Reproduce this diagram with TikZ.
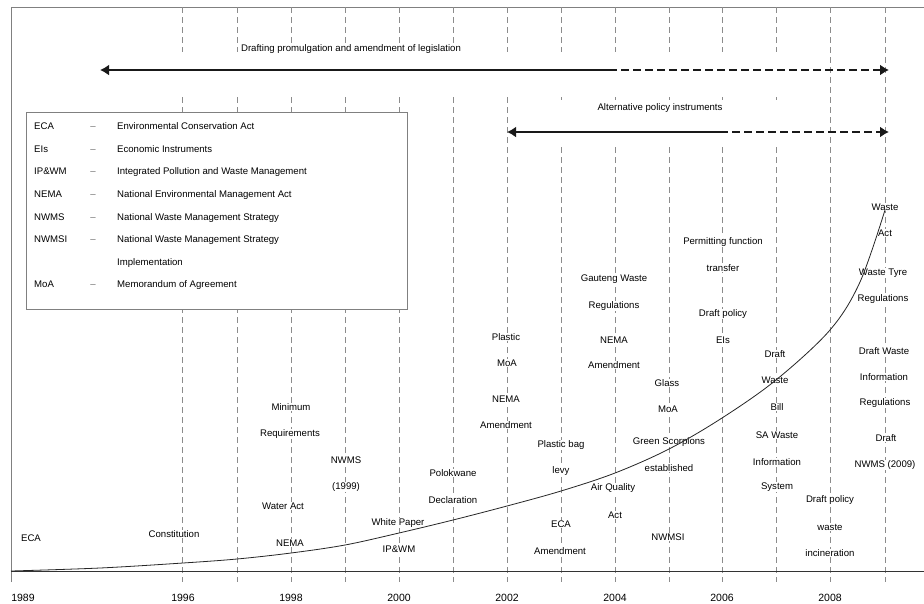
\documentclass[tikz,border=0pt]{standalone}
\usepackage{fontspec}
\setmainfont{Liberation Sans}
\usetikzlibrary{arrows.meta}
\begin{document}
\begin{tikzpicture}[x=1pt,y=-1pt,
  lbl/.style={font=\fontsize{9.6}{10}\selectfont, fill=white, inner sep=0.8pt, text=black},
  leg/.style={font=\fontsize{9.6}{10}\selectfont, inner sep=0pt, anchor=base west, text=black},
  legdash/.style={font=\fontsize{9.6}{10}\selectfont, inner sep=0pt, anchor=base, text=black!55},
  yr/.style={font=\fontsize{10.5}{11}\selectfont, inner sep=0pt, text=black},
  gridline/.style={draw=black!45, dash pattern=on 6pt off 4pt, line width=0.6pt},
  bigarrow/.style={line width=2pt, black!90},
]
\useasboundingbox (0,0) rectangle (924,603);
\fill[white] (0,0) rectangle (924,603);
% frame
\draw[black!50, line width=0.6pt] (11,582) -- (11,7) -- (924,7);
% dashed year lines
\foreach \x in {182,237,291,345,399,453,507,561,615,669,722,776,830,885}
  \draw[gridline] (\x,7) -- (\x,582);
% white bands behind the arrows
\fill[white] (170,52) rectangle (800,93);
\fill[white] (515,100) rectangle (800,143);
% axis
\draw[black!80, line width=0.8pt] (11,571) -- (924,571);
% years
\node[yr] (y1989) at (23,598) {1989};
\node[yr] (y1996) at (183,598) {1996};
\node[yr] (y1998) at (291,598) {1998};
\node[yr] (y2000) at (399,598) {2000};
\node[yr] (y2002) at (507,598) {2002};
\node[yr] (y2004) at (615,598) {2004};
\node[yr] (y2006) at (722,598) {2006};
\node[yr] (y2008) at (830,598) {2008};
% top arrows
\node[lbl] (drafting) at (351,49) {Drafting promulgation and amendment of legislation};
\coordinate (a1l) at (100,70);
\coordinate (a1m) at (609,70);
\coordinate (a1r) at (889,70);
\draw[bigarrow, {Latex[length=9pt,width=11pt]}-] (a1l) -- (a1m);
\draw[bigarrow, dash pattern=on 8pt off 4pt, -{Latex[length=9pt,width=11pt]}] (a1m) -- (a1r);
\node[lbl] (alt) at (660,108) {Alternative policy instruments};
\coordinate (a2l) at (507,132);
\coordinate (a2m) at (720,132);
\coordinate (a2r) at (889,132);
\draw[bigarrow, {Latex[length=9pt,width=11pt]}-] (a2l) -- (a2m);
\draw[bigarrow, dash pattern=on 8pt off 4pt, -{Latex[length=9pt,width=11pt]}] (a2m) -- (a2r);
% legend
\draw[black!50, fill=white, line width=0.6pt] (26,112) rectangle (407,309);
\node[leg] (l1a) at (34,129.5) {ECA};   \node[legdash] (l1d) at (93,129.5) {--}; \node[leg] (l1t) at (117,129.5) {Environmental Conservation Act};
\node[leg] (l2a) at (34,152.5) {EIs};   \node[legdash] (l2d) at (93,152.5) {--}; \node[leg] (l2t) at (117,152.5) {Economic Instruments};
\node[leg] (l3a) at (34,174.5) {IP\&WM}; \node[legdash] (l3d) at (93,174.5) {--}; \node[leg] (l3t) at (117,174.5) {Integrated Pollution and Waste Management};
\node[leg] (l4a) at (34,197.5) {NEMA};  \node[legdash] (l4d) at (93,197.5) {--}; \node[leg] (l4t) at (117,197.5) {National Environmental Management Act};
\node[leg] (l5a) at (34,220.5) {NWMS};  \node[legdash] (l5d) at (93,220.5) {--}; \node[leg] (l5t) at (117,220.5) {National Waste Management Strategy};
\node[leg] (l6a) at (34,242.5) {NWMSI}; \node[legdash] (l6d) at (93,242.5) {--}; \node[leg] (l6t) at (117,242.5) {National Waste Management Strategy};
\node[leg] (l6u) at (117,265.5) {Implementation};
\node[leg] (l7a) at (34,287.5) {MoA};   \node[legdash] (l7d) at (93,287.5) {--}; \node[leg] (l7t) at (117,287.5) {Memorandum of Agreement};
% event labels
\node[lbl] (eca) at (31,538) {ECA};
\node[lbl] (const) at (174,534) {Constitution};
\node[lbl] (minA) at (291,407) {Minimum};
\node[lbl] (minB) at (290,434) {Requirements};
\node[lbl] (water) at (283,506) {Water Act};
\node[lbl] (nema98) at (290,543) {NEMA};
\node[lbl] (nwmsA) at (346,460) {NWMS};
\node[lbl] (nwmsB) at (346,487) {(1999)};
\node[lbl] (whiteA) at (398,523) {White Paper};
\node[lbl] (whiteB) at (399,549) {IP\&WM};
\node[lbl] (poloA) at (453,473) {Polokwane};
\node[lbl] (poloB) at (453,500) {Declaration};
\node[lbl] (plA) at (506,337) {Plastic};
\node[lbl] (plB) at (507,363) {MoA};
\node[lbl] (nemaA02) at (506,399) {NEMA};
\node[lbl] (nemaB02) at (506,425) {Amendment};
\node[lbl] (bagA) at (561,445) {Plastic bag};
\node[lbl] (bagB) at (561,471) {levy};
\node[lbl] (ecaA03) at (561,524) {ECA};
\node[lbl] (ecaB03) at (560,551) {Amendment};
\node[lbl] (gautA) at (614,279) {Gauteng Waste};
\node[lbl] (gautB) at (614,306) {Regulations};
\node[lbl] (nemaA04) at (614,340) {NEMA};
\node[lbl] (nemaB04) at (614,365) {Amendment};
\node[lbl] (airA) at (613,488) {Air Quality};
\node[lbl] (airB) at (615,515) {Act};
\node[lbl] (glassA) at (667,383) {Glass};
\node[lbl] (glassB) at (668,409) {MoA};
\node[lbl] (greenA) at (669,442) {Green Scorpions};
\node[lbl] (greenB) at (669,468) {established};
\node[lbl] (nwmsi) at (668,537) {NWMSI};
\node[lbl] (permA) at (723,242) {Permitting function};
\node[lbl] (permB) at (723,268) {transfer};
\node[lbl] (dpeA) at (723,314) {Draft policy};
\node[lbl] (dpeB) at (723,340) {EIs};
\node[lbl] (dwbA) at (775,354) {Draft};
\node[lbl] (dwbB) at (775,380) {Waste};
\node[lbl] (dwbC) at (777,407) {Bill};
\node[lbl] (sawA) at (777,435) {SA Waste};
\node[lbl] (sawB) at (777,462) {Information};
\node[lbl] (sawC) at (777,487) {System};
\node[lbl] (incA) at (830,500) {Draft policy};
\node[lbl] (incB) at (830,527) {waste};
\node[lbl] (incC) at (830,553) {incineration};
\node[lbl] (waA) at (885,207) {Waste};
\node[lbl] (waB) at (885,233) {Act};
\node[lbl] (tyA) at (883,273) {Waste Tyre};
\node[lbl] (tyB) at (883,299) {Regulations};
\node[lbl] (dwiA) at (884,351) {Draft Waste};
\node[lbl] (dwiB) at (884,377) {Information};
\node[lbl] (dwiC) at (885,403) {Regulations};
\node[lbl] (dnA) at (886,438) {Draft};
\node[lbl] (dnB) at (885,465) {NWMS (2009)};
% growth curve
\draw[black!85, line width=0.8pt] plot[smooth, tension=0.55] coordinates {
  (11,571) (100,568) (183,563) (237,559) (291,553) (345,545) (399,533)
  (453,520) (507,506) (561,491) (615,473) (669,449) (722,418) (776,380)
  (830,330) (860,282) (885,210)};
\end{tikzpicture}
\end{document}
